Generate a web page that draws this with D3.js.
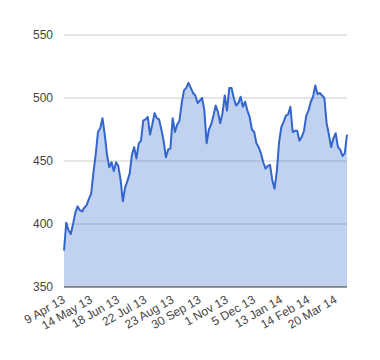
<!DOCTYPE html>
<html><head><meta charset="utf-8">
<script src="https://cdnjs.cloudflare.com/ajax/libs/d3/7.8.5/d3.min.js"></script>
<style>body{margin:0;background:#fff}svg{display:block}text{font-family:Arial,"Liberation Sans",sans-serif}</style>
</head><body><div id="chart"></div>
<script>
const values = [379,401,395,392,400,409,414,411,410,413,
415,420,424,441,455,473,476,484,471,455,
445,449,442,449,446,435,418,429,434,440,
455,461,452,464,466,482,483,485,471,479,
488,484,483,475,466,453,459,460,484,473,
479,482,496,506,508,512,508,504,502,496,
498,500,490,464,475,479,486,494,489,480,
488,502,490,508,508,500,494,496,501,493,
497,490,485,475,473,464,461,456,449,444,
446,447,435,428,442,465,477,481,486,487,
493,473,474,474,466,469,474,486,490,497,
501,510,503,504,502,500,480,471,461,468,
472,461,459,454,456,471];
const tickLabels = ["9 Apr 13","14 May 13","18 Jun 13","22 Jul 13","23 Aug 13","30 Sep 13","1 Nov 13","5 Dec 13","13 Jan 14","14 Feb 14","20 Mar 14"];
const tickIndex = [0,12,24,36,48,60,72,84,96,108,120];
const yTicks = [350,400,450,500,550];

const W=380,H=360,L=64,R=347,T=35,B=287;
const svg=d3.select("#chart").append("svg").attr("width",W).attr("height",H);
const x=d3.scaleLinear().domain([0,values.length-1]).range([L,R]);
const y=d3.scaleLinear().domain([350,550]).range([B,T]);

svg.append("g").selectAll("line").data(yTicks.filter(d=>d>350)).join("line")
  .attr("x1",L).attr("x2",R).attr("y1",d=>y(d)).attr("y2",d=>y(d))
  .attr("stroke","#cccccc").attr("stroke-width",1);
svg.append("g").selectAll("text").data(yTicks).join("text")
  .attr("x",53).attr("y",d=>y(d)).attr("dy","0.35em").attr("text-anchor","end")
  .attr("font-size",12).attr("fill","#444").text(d=>d);

const area=d3.area().x((d,i)=>x(i)).y0(y(350)).y1(d=>y(d));
const line=d3.line().x((d,i)=>x(i)).y(d=>y(d));
svg.append("path").datum(values).attr("d",area).attr("fill","#3366cc").attr("fill-opacity",0.3);
svg.append("path").datum(values).attr("d",line).attr("fill","none").attr("stroke","#3366cc").attr("stroke-width",2).attr("stroke-linejoin","round");

svg.append("line").attr("x1",L).attr("x2",R).attr("y1",y(350)).attr("y2",y(350)).attr("stroke","#333").attr("stroke-width",1);

svg.append("g").selectAll("text").data(tickIndex).join("text")
  .attr("transform",d=>`translate(${x(d)+2},${B+15}) rotate(-30)`)
  .attr("text-anchor","end").attr("font-size",12).attr("fill","#444")
  .text((d,i)=>tickLabels[i]);
</script></body></html>
